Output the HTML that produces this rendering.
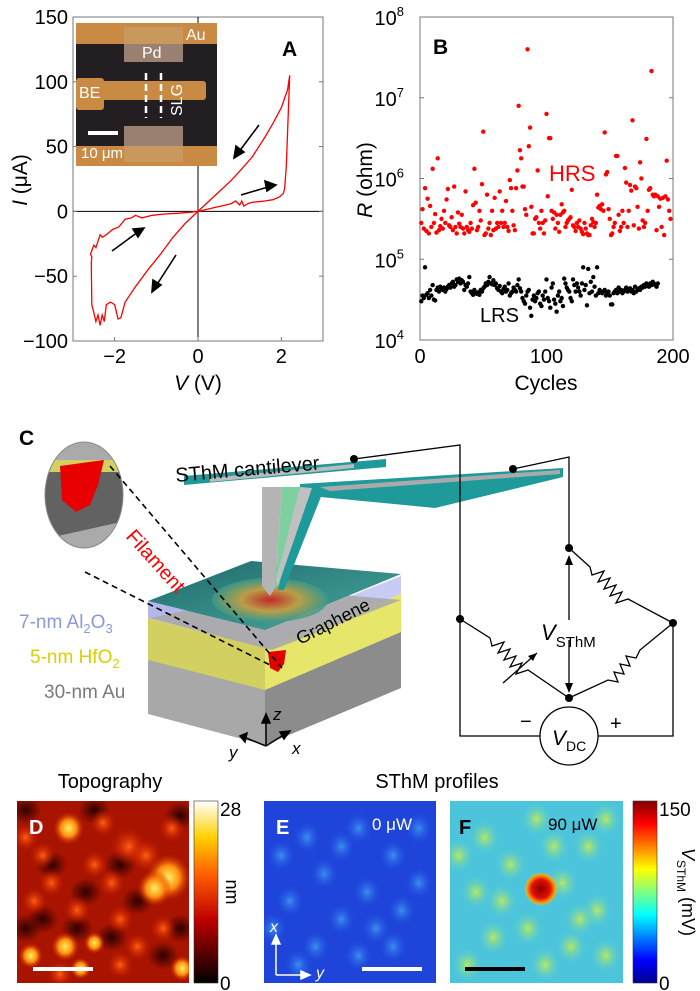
<!DOCTYPE html>
<html><head><meta charset="utf-8"><style>
html,body{margin:0;padding:0;background:#fff}
svg{display:block;font-family:"Liberation Sans",Arial,sans-serif}
</style></head><body>
<svg id="fig" width="700" height="991" viewBox="0 0 700 991" xmlns="http://www.w3.org/2000/svg">
<defs>
<radialGradient id="hot" cx="0.5" cy="0.5" r="0.5"><stop offset="0" stop-color="#d02020"/><stop offset="0.5" stop-color="#c8a040"/><stop offset="1" stop-color="#3a9a8a" stop-opacity="0.9"/></radialGradient>
<linearGradient id="topSurf" x1="0" y1="0" x2="1" y2="1"><stop offset="0" stop-color="#1e6a6a"/><stop offset="1" stop-color="#4aa8a0"/></linearGradient>
<linearGradient id="hotbar" x1="0" y1="1" x2="0" y2="0"><stop offset="0" stop-color="#000"/><stop offset="0.35" stop-color="#c00000"/><stop offset="0.6" stop-color="#ff6000"/><stop offset="0.8" stop-color="#ffd000"/><stop offset="1" stop-color="#ffffff"/></linearGradient>
<linearGradient id="jetbar" x1="0" y1="1" x2="0" y2="0"><stop offset="0" stop-color="#00008f"/><stop offset="0.125" stop-color="#0000ff"/><stop offset="0.375" stop-color="#00ffff"/><stop offset="0.625" stop-color="#ffff00"/><stop offset="0.875" stop-color="#ff0000"/><stop offset="1" stop-color="#800000"/></linearGradient>
<radialGradient id="blobY"><stop offset="0" stop-color="#fff060"/><stop offset="0.5" stop-color="#ff9010"/><stop offset="1" stop-color="#d02000" stop-opacity="0"/></radialGradient>
<radialGradient id="blobO"><stop offset="0" stop-color="#ff6010"/><stop offset="1" stop-color="#d01800" stop-opacity="0"/></radialGradient>
<radialGradient id="blobK"><stop offset="0" stop-color="#300000"/><stop offset="1" stop-color="#300000" stop-opacity="0"/></radialGradient>
<radialGradient id="blobE"><stop offset="0" stop-color="#3c8ef0"/><stop offset="1" stop-color="#2050e0" stop-opacity="0"/></radialGradient>
<radialGradient id="blobF"><stop offset="0" stop-color="#b8e860"/><stop offset="1" stop-color="#40c8e8" stop-opacity="0"/></radialGradient>
<radialGradient id="spot"><stop offset="0" stop-color="#900000"/><stop offset="0.55" stop-color="#e01000"/><stop offset="0.8" stop-color="#ff9000"/><stop offset="1" stop-color="#ffd000" stop-opacity="0"/></radialGradient>
<clipPath id="clipD"><rect x="17" y="801" width="172" height="182"/></clipPath>
<clipPath id="clipE"><rect x="264" y="801" width="172" height="182"/></clipPath>
<clipPath id="clipF"><rect x="450" y="801" width="173" height="182"/></clipPath>
<clipPath id="clipEl"><ellipse cx="84" cy="495" rx="39" ry="53"/></clipPath>
<clipPath id="clipA"><rect x="73" y="17" width="250" height="324"/></clipPath>
</defs>

<!-- PANEL A -->
<g>
<rect x="73" y="17" width="250" height="324" fill="none" stroke="#777" stroke-width="1"/>
<g id="aTicks"></g>
<g>
<rect x="76" y="23" width="141" height="143" fill="#221e22"/>
<rect x="76" y="23" width="141" height="21" fill="#c98b44"/>
<rect x="124" y="27" width="59" height="35" fill="#c9985c"/>
<rect x="124" y="44" width="59" height="18" fill="#9a8070"/>
<rect x="76" y="81" width="130" height="19" rx="3" fill="#c98b44"/>
<rect x="76" y="78" width="28" height="32" rx="3" fill="#c98b44"/>
<rect x="76" y="146" width="141" height="20" fill="#c98b44"/>
<rect x="124" y="126" width="59" height="36" fill="#9a8070"/>
<rect x="124" y="146" width="59" height="16" fill="#c9985c"/>
<line x1="146" y1="73" x2="146" y2="118" stroke="#fff" stroke-width="2.5" stroke-dasharray="7,4"/>
<line x1="161" y1="73" x2="161" y2="118" stroke="#fff" stroke-width="2.5" stroke-dasharray="7,4"/>
<text x="186" y="40" fill="#fff" font-size="16">Au</text>
<text x="142" y="58" fill="#fff" font-size="16">Pd</text>
<text x="79" y="98" fill="#fff" font-size="16">BE</text>
<text x="0" y="0" fill="#fff" font-size="16" transform="translate(182,116) rotate(-90)">SLG</text>
<rect x="88" y="131" width="30" height="4" fill="#fff"/>
<text x="81" y="158" fill="#fff" font-size="15">10 μm</text>
</g>
<path id="ivPath" fill="none" stroke="#f00" stroke-width="1.3" clip-path="url(#clipA)"/>
<g stroke="#000" stroke-width="1.6" fill="#000">
<line x1="259" y1="125" x2="238" y2="153"/><polygon points="234,158 236,146 244,152"/>
<line x1="241" y1="195" x2="268" y2="187"/><polygon points="276,185 265,181 267,191"/>
<line x1="112" y1="251" x2="138" y2="232"/><polygon points="144,228 133,229 138,237"/>
<line x1="176" y1="255" x2="156" y2="286"/><polygon points="152,292 153,280 161,285"/>
</g>
<text x="282" y="56" font-size="21" font-weight="bold">A</text>
<text x="198" y="390" text-anchor="middle" font-size="21"><tspan font-style="italic">V</tspan> (V)</text>
<text transform="translate(27,180) rotate(-90)" text-anchor="middle" font-size="21"><tspan font-style="italic">I</tspan> (μA)</text>
</g>

<!-- PANEL B -->
<g>
<rect x="420" y="17" width="253" height="323" fill="none" stroke="#777" stroke-width="1"/>
<g id="bTicks"></g>
<g id="bDots"></g>
<text x="433" y="54" font-size="21" font-weight="bold">B</text>
<text x="549" y="181" font-size="22" fill="#f00">HRS</text>
<text x="480" y="322" font-size="20" fill="#000">LRS</text>
<text x="546" y="390" text-anchor="middle" font-size="21">Cycles</text>
<text transform="translate(372,180) rotate(-90)" text-anchor="middle" font-size="21"><tspan font-style="italic">R</tspan> (ohm)</text>
</g>

<!-- PANEL C -->
<g>
<text x="19" y="445" font-size="21" font-weight="bold">C</text>
<g>
<polygon points="148,660 265,690 265,745 148,714" fill="#a8a8a8"/>
<polygon points="265,690 401,632 401,688 265,745" fill="#8c8c8c"/>
<polygon points="148,660 280,620 401,632 265,690" fill="#6a6a6a"/>
<polygon points="148,618 265,648 265,690 148,660" fill="#d2d060"/>
<polygon points="265,648 401,594 401,632 265,690" fill="#e6e66a"/>
<polygon points="148,601 265,630 265,648 148,618" fill="#b4b8e8"/>
<polygon points="265,630 401,576 401,594 265,648" fill="#c8ccf4"/>
<polygon points="150,618 285,590 401,600 272,650" fill="#a8a8a8" opacity="0.9"/>
<polygon points="148,601 251,561 401,574 265,630" fill="url(#topSurf)"/>
<ellipse cx="270" cy="600" rx="58" ry="22" fill="url(#hot)" opacity="0.9"/>
<path d="M268,652 L286,650 L284,664 L278,672 L270,668 Z" fill="#e00000"/>
</g>
<text transform="translate(300,645) rotate(-27)" font-size="18" fill="#000">Graphene</text>
<g>
<g clip-path="url(#clipEl)">
<rect x="40" y="440" width="90" height="110" fill="#626262"/>
<rect x="40" y="440" width="90" height="20" fill="#aaa"/>
<rect x="40" y="460" width="90" height="12" fill="#d4d060"/>
<polygon points="40,540 130,520 130,560 40,560" fill="#aaa"/>
<path d="M60,466 L104,460 L98,485 L90,505 L76,512 L62,500 Z" fill="#e80000"/>
</g>
<ellipse cx="84" cy="495" rx="39" ry="53" fill="none" stroke="#888" stroke-width="1"/>
</g>
<g stroke="#000" stroke-width="1.6" stroke-dasharray="6,4" fill="none">
<line x1="110" y1="466" x2="282" y2="668"/><line x1="85" y1="572" x2="272" y2="666"/>
</g>
<text transform="translate(125,537) rotate(48)" font-size="20" fill="#f00">Filament</text>
<text x="19" y="628" font-size="19" fill="#8d98d8">7-nm Al<tspan font-size="13" dy="5">2</tspan><tspan dy="-5">O</tspan><tspan font-size="13" dy="5">3</tspan></text>
<text x="30" y="663" font-size="19" fill="#d8d000">5-nm HfO<tspan font-size="13" dy="5">2</tspan></text>
<text x="44" y="698" font-size="19" fill="#7a7a7a">30-nm Au</text>
<g>
<polygon points="184,476 386,459 386,467 184,485" fill="#1e9a9a"/>
<polygon points="210,478 354,464 354,468 210,482" fill="#bbb"/>
<polygon points="300,484 563,468 563,477 435,508 300,495" fill="#1e9a9a"/>
<polygon points="320,487 560,470 560,474 330,491" fill="#aaa"/>
<polygon points="262,487 282,487 275,588 270,596 262,586" fill="#b4b4b4"/>
<polygon points="282,487 300,487 282,582 275,588" fill="#7ed0a0"/>
<polygon points="300,487 324,489 284,590 278,590" fill="#1e9a9a"/>
<polygon points="300,487 312,488 278,586 276,580" fill="#c0c0c0"/>
</g>
<text transform="translate(176,482) rotate(-5)" font-size="20">SThM cantilever</text>
<g stroke="#000" stroke-width="1.5" fill="#000">
<line x1="266" y1="746" x2="266" y2="720"/><polygon points="266,714 262,723 270,723"/>
<line x1="266" y1="746" x2="285" y2="734"/><polygon points="290,731 280,732 284,739"/>
<line x1="266" y1="746" x2="246" y2="738"/><polygon points="240,736 247,733 245,742"/>
</g>
<text x="273" y="720" font-size="17" font-style="italic">z</text>
<text x="292" y="754" font-size="17" font-style="italic">x</text>
<text x="229" y="758" font-size="17" font-style="italic">y</text>
<g stroke="#000" stroke-width="1.3" fill="none">
<polyline points="354,459 460,445 460,736 540,736"/>
<polyline points="513,469 569,457 569,548"/>
<polyline points="598,736 673,736 673,623"/>
<polyline points="569,548 590,567 592,575 604,571 598,582 610,578 604,589 616,585 610,596 622,592 616,603 628,599 673,623"/>
<polyline points="460,619 490,638 492,646 504,642 498,653 510,649 504,660 516,656 510,667 522,663 516,674 528,670 569,698"/>
<polyline points="673,623 640,650 636,658 626,656 630,666 620,664 624,674 614,672 618,682 608,680 569,698"/>
<line x1="503" y1="683" x2="537" y2="653"/>
<line x1="569" y1="560" x2="569" y2="620"/><line x1="569" y1="640" x2="569" y2="688"/>
<circle cx="569" cy="736" r="29"/>
</g>
<g fill="#000">
<polygon points="537,653 528,656 533,661"/>
<polygon points="569,555 565,565 573,565"/><polygon points="569,693 565,683 573,683"/>
<circle cx="354" cy="459" r="4"/><circle cx="513" cy="469" r="4"/><circle cx="569" cy="548" r="4"/>
<circle cx="460" cy="619" r="4"/><circle cx="673" cy="623" r="4"/><circle cx="569" cy="698" r="4"/>
</g>
<text x="541" y="640" font-size="22" font-style="italic">V<tspan font-size="15" font-style="normal" dy="7">SThM</tspan></text>
<text x="552" y="745" font-size="21" font-style="italic">V<tspan font-size="14" font-style="normal" dy="6">DC</tspan></text>
<text x="520" y="728" font-size="20">−</text><text x="610" y="730" font-size="20">+</text>
</g>

<!-- PANELS D-F -->
<text x="110" y="788" text-anchor="middle" font-size="20">Topography</text>
<text x="437" y="788" text-anchor="middle" font-size="20">SThM profiles</text>
<g clip-path="url(#clipD)">
<rect x="17" y="801" width="172" height="182" fill="#a81400"/>
<g id="dBlobs"></g>
</g>
<g clip-path="url(#clipE)">
<rect x="264" y="801" width="172" height="182" fill="#1e44da"/>
<g id="eBlobs"></g>
</g>
<g clip-path="url(#clipF)">
<rect x="450" y="801" width="173" height="182" fill="#4cc4dc"/>
<g id="fBlobs"></g>
<circle cx="541" cy="889" r="17" fill="url(#spot)"/>
</g>
<rect x="194" y="801" width="24" height="182" fill="url(#hotbar)" stroke="#333" stroke-width="0.6"/>
<text x="220" y="816" font-size="19">28</text><text x="220" y="990" font-size="19">0</text>
<text transform="translate(226,892) rotate(90)" text-anchor="middle" font-size="18">nm</text>
<rect x="633" y="801" width="24" height="182" fill="url(#jetbar)" stroke="#333" stroke-width="0.6"/>
<text x="659" y="816" font-size="19">150</text><text x="659" y="990" font-size="19">0</text>
<text transform="translate(682,892) rotate(90)" text-anchor="middle" font-size="18"><tspan font-style="italic">V</tspan><tspan font-size="12" dy="5">SThM</tspan><tspan dy="-5"> (mV)</tspan></text>
<text x="29" y="834" font-size="20" font-weight="bold" fill="#fff">D</text>
<text x="276" y="834" font-size="20" font-weight="bold" fill="#fff">E</text>
<text x="459" y="834" font-size="20" font-weight="bold" fill="#000">F</text>
<text x="372" y="830" font-size="17" fill="#fff">0 μW</text>
<text x="548" y="830" font-size="17" fill="#000">90 μW</text>
<rect x="33" y="967" width="60" height="4" fill="#fff"/>
<rect x="362" y="967" width="60" height="4" fill="#fff"/>
<rect x="465" y="967" width="60" height="4" fill="#000"/>
<g stroke="#fff" stroke-width="1.5" fill="#fff">
<line x1="276" y1="975" x2="276" y2="940"/><polygon points="276,935 272,944 280,944"/>
<line x1="276" y1="975" x2="305" y2="975"/><polygon points="310,975 301,971 301,979"/>
</g>
<text x="270" y="932" font-size="16" font-style="italic" fill="#fff">x</text>
<text x="316" y="978" font-size="16" font-style="italic" fill="#fff">y</text>
</svg>
<script>
const NS="http://www.w3.org/2000/svg";
const ivV=[0,0.2,0.4,0.6,0.8,0.9,1.0,1.05,1.1,1.2,1.3,1.45,1.6,1.8,1.95,2.05,2.08,2.12,2.2,2.15,2.0,1.8,1.6,1.3,1.0,0.8,0.5,0.2,0,-0.3,-0.6,-0.9,-1.2,-1.5,-1.75,-1.85,-1.92,-2.0,-2.1,-2.2,-2.25,-2.3,-2.35,-2.4,-2.45,-2.5,-2.55,-2.56,-2.55,-2.58,-2.5,-2.45,-2.35,-2.3,-2.2,-2.05,-1.9,-1.75,-1.6,-1.5,-1.35,-1.1,-0.8,-0.5,-0.2,0];
const ivI=[0,1.5,3,4.5,6,8,5,8,4,6,7,7.5,8,9,11,14,18,35,105,94,80,68,57,42,31,24,15,6,0,-9,-20,-33,-45,-58,-70,-82,-83,-72,-70,-72,-85,-80,-88,-80,-85,-78,-72,-40,-35,-33,-26,-28,-18,-20,-18,-14,-12,-6,-5,-3,-5,-3,-2,-1.5,-0.7,0];
const aXTicks=[-2,0,2];
const aYTicks=[-100,-50,0,50,100,150];
const hrsLog=[5.45,5.62,5.38,5.88,5.35,5.75,5.32,5.66,5.40,6.12,5.45,5.56,5.33,6.25,5.36,5.41,5.50,5.38,5.60,5.45,5.74,5.87,5.42,5.40,5.52,5.36,5.90,5.40,5.32,5.58,5.44,5.40,5.55,5.38,5.32,5.84,5.40,5.36,5.34,5.45,5.38,5.67,6.12,5.70,5.36,5.40,5.60,5.48,5.93,6.58,5.30,5.32,5.80,5.38,5.45,5.30,5.60,5.36,5.76,5.38,5.45,5.40,5.84,5.45,5.60,5.40,5.45,5.72,5.40,5.35,5.98,5.88,5.60,5.42,5.36,5.88,6.10,6.90,6.35,6.25,5.90,5.90,5.62,5.55,7.60,6.40,6.63,5.65,5.32,5.32,5.50,5.52,6.10,5.45,5.38,5.60,5.45,5.32,5.48,6.80,5.78,6.50,6.50,5.60,5.50,5.58,5.38,5.55,5.45,5.34,5.55,5.68,5.58,5.60,5.40,5.45,5.48,5.50,5.52,5.86,5.42,5.40,5.35,5.45,5.40,5.48,5.38,5.34,5.31,5.45,5.38,5.32,5.30,5.30,5.42,5.50,5.46,5.40,5.45,5.80,5.64,5.66,5.62,5.68,5.60,6.57,6.05,6.08,5.62,5.50,5.30,5.32,5.40,5.45,6.28,6.28,5.55,5.35,5.40,5.60,5.45,6.13,5.95,5.40,5.60,5.92,5.85,6.72,5.42,5.90,5.88,5.65,5.38,6.20,6.00,5.48,5.40,5.45,6.49,5.60,5.86,5.88,7.33,5.80,5.78,5.80,5.36,5.78,5.65,5.75,5.40,5.76,5.30,5.78,6.22,5.74,5.60,5.50];
const lrsLog=[4.48,4.55,4.52,4.90,4.56,4.58,4.52,4.62,4.55,4.68,4.50,4.49,4.62,4.65,4.60,4.66,4.64,4.62,4.65,4.60,4.63,4.66,4.68,4.65,4.70,4.72,4.66,4.68,4.75,4.72,4.76,4.70,4.74,4.72,4.62,4.68,4.66,4.70,4.78,4.60,4.58,4.56,4.62,4.58,4.57,4.59,4.56,4.62,4.60,4.64,4.66,4.70,4.68,4.72,4.78,4.70,4.69,4.74,4.68,4.70,4.64,4.62,4.67,4.60,4.58,4.63,4.66,4.60,4.62,4.70,4.55,4.58,4.60,4.65,4.62,4.60,4.68,4.75,4.64,4.60,4.52,4.48,4.45,4.55,4.60,4.62,4.40,4.30,4.50,4.55,4.48,4.52,4.58,4.60,4.45,4.42,4.55,4.50,4.60,4.75,4.52,4.48,4.40,4.65,4.70,4.50,4.45,4.35,4.55,4.60,4.48,4.52,4.42,4.76,4.70,4.65,4.62,4.60,4.52,4.48,4.75,4.68,4.60,4.70,4.65,4.60,4.55,4.70,4.90,4.62,4.68,4.43,4.88,4.58,4.72,4.60,4.78,4.66,4.55,4.90,4.58,4.62,4.60,4.58,4.60,4.62,4.55,4.58,4.60,4.55,4.44,4.44,4.58,4.60,4.62,4.58,4.65,4.60,4.62,4.58,4.60,4.62,4.65,4.60,4.62,4.64,4.60,4.62,4.58,4.66,4.60,4.62,4.64,4.62,4.66,4.65,4.68,4.66,4.70,4.68,4.66,4.70,4.68,4.72,4.70,4.68,4.66,4.70];
const bXTicks=[0,100,200];
const bYExp=[4,5,6,7,8];
const dPeaksBright=[[0.3,0.15,0.09],[0.88,0.42,0.13],[0.8,0.48,0.1],[0.08,0.85,0.07],[0.28,0.8,0.08],[0.37,0.92,0.06],[0.96,0.92,0.07],[0.45,0.78,0.06]];
const dPeaksMid=[[0.65,0.25,0.07],[0.75,0.3,0.06],[0.15,0.3,0.05],[0.55,0.45,0.05],[0.35,0.6,0.05],[0.6,0.65,0.05],[0.1,0.55,0.05],[0.5,0.12,0.05],[0.2,0.45,0.05],[0.7,0.8,0.05],[0.85,0.7,0.05],[0.45,0.35,0.05],[0.25,0.95,0.05],[0.6,0.9,0.05],[0.9,0.15,0.05],[0.05,0.2,0.05]];
const dPits=[[0.05,0.05],[0.45,0.05],[0.95,0.08],[0.2,0.35],[0.6,0.35],[0.4,0.5],[0.05,0.7],[0.7,0.55],[0.55,0.75],[0.85,0.85],[0.15,0.65],[0.35,0.7],[0.95,0.7]];
const eBlobs=[[0.25,0.2],[0.55,0.15],[0.75,0.3],[0.35,0.4],[0.6,0.5],[0.15,0.55],[0.45,0.65],[0.8,0.6],[0.3,0.8],[0.55,0.85],[0.75,0.8],[0.9,0.45],[0.1,0.3],[0.45,0.25],[0.65,0.7],[0.2,0.9],[0.9,0.15],[0.05,0.7]];
const fBlobs=[[0.5,0.1],[0.2,0.2],[0.8,0.25],[0.35,0.35],[0.65,0.45],[0.15,0.5],[0.85,0.6],[0.45,0.7],[0.25,0.75],[0.7,0.8],[0.55,0.9],[0.9,0.85],[0.1,0.9],[0.6,0.25],[0.3,0.55],[0.9,0.1],[0.05,0.3],[0.75,0.65]];

function mk(tag,attrs,parent){const e=document.createElementNS(NS,tag);for(const k in attrs)e.setAttribute(k,attrs[k]);parent.appendChild(e);return e;}
const ax=v=>198+v*(250/6);
const ay=i=>17+(150-i)*(324/250);
const aT=document.getElementById('aTicks');
mk('line',{x1:73,y1:ay(0),x2:323,y2:ay(0),stroke:'#000','stroke-width':1},aT);
mk('line',{x1:ax(0),y1:17,x2:ax(0),y2:341,stroke:'#000','stroke-width':1},aT);
aXTicks.forEach(v=>{const t=mk('text',{x:ax(v),y:363,'text-anchor':'middle','font-size':20},aT);t.textContent=v<0?'−'+(-v):v;
mk('line',{x1:ax(v),y1:341,x2:ax(v),y2:337,stroke:'#777'},aT);});
aYTicks.forEach(v=>{const t=mk('text',{x:68,y:ay(v)+7,'text-anchor':'end','font-size':20},aT);t.textContent=v<0?'−'+(-v):v;
mk('line',{x1:73,y1:ay(v),x2:77,y2:ay(v),stroke:'#777'},aT);mk('line',{x1:323,y1:ay(v),x2:319,y2:ay(v),stroke:'#777'},aT);});
const ivp=document.getElementById('ivPath');
ivp.setAttribute('d',ivV.map((v,i)=>(i?'L':'M')+ax(v).toFixed(1)+','+ay(ivI[i]).toFixed(1)).join(' '));
const bx=c=>420+c*(253/200);
const by=l=>17+(8-l)*(323/4);
const bT=document.getElementById('bTicks');
bXTicks.forEach(v=>{const t=mk('text',{x:bx(v),y:363,'text-anchor':'middle','font-size':20},bT);t.textContent=v;});
bYExp.forEach(e=>{const t=mk('text',{x:404,y:by(e)+8,'text-anchor':'end','font-size':20},bT);t.textContent='10';
const s=mk('tspan',{'font-size':13,dy:-9},t);s.textContent=e;
mk('line',{x1:420,y1:by(e),x2:424,y2:by(e),stroke:'#777'},bT);mk('line',{x1:673,y1:by(e),x2:669,y2:by(e),stroke:'#777'},bT);});
const bD=document.getElementById('bDots');
hrsLog.forEach((l,i)=>{const c=mk('circle',{cx:bx(i+1),cy:by(l),r:2.2,fill:'#f00'},bD);

});
lrsLog.forEach((l,i)=>{const c=mk('circle',{cx:bx(i+1),cy:by(l),r:2.2,fill:'#000'},bD);

});
const dG=document.getElementById('dBlobs');
dPits.forEach(p=>{mk('ellipse',{cx:17+p[0]*172,cy:801+p[1]*182,rx:16,ry:14,fill:'url(#blobK)'},dG);});
dPeaksMid.forEach(p=>{mk('ellipse',{cx:17+p[0]*172,cy:801+p[1]*182,rx:p[2]*172*1.5,ry:p[2]*182*1.5,fill:'url(#blobO)'},dG);});
dPeaksBright.forEach(p=>{mk('ellipse',{cx:17+p[0]*172,cy:801+p[1]*182,rx:p[2]*172,ry:p[2]*182,fill:'url(#blobY)'},dG);});
const eG=document.getElementById('eBlobs');
eBlobs.forEach(p=>{mk('ellipse',{cx:264+p[0]*172,cy:801+p[1]*182,rx:14,ry:16,fill:'url(#blobE)'},eG);});
const fG=document.getElementById('fBlobs');
fBlobs.forEach(p=>{mk('ellipse',{cx:450+p[0]*173,cy:801+p[1]*182,rx:17,ry:19,fill:'url(#blobF)'},fG);});
</script>
</body></html>
